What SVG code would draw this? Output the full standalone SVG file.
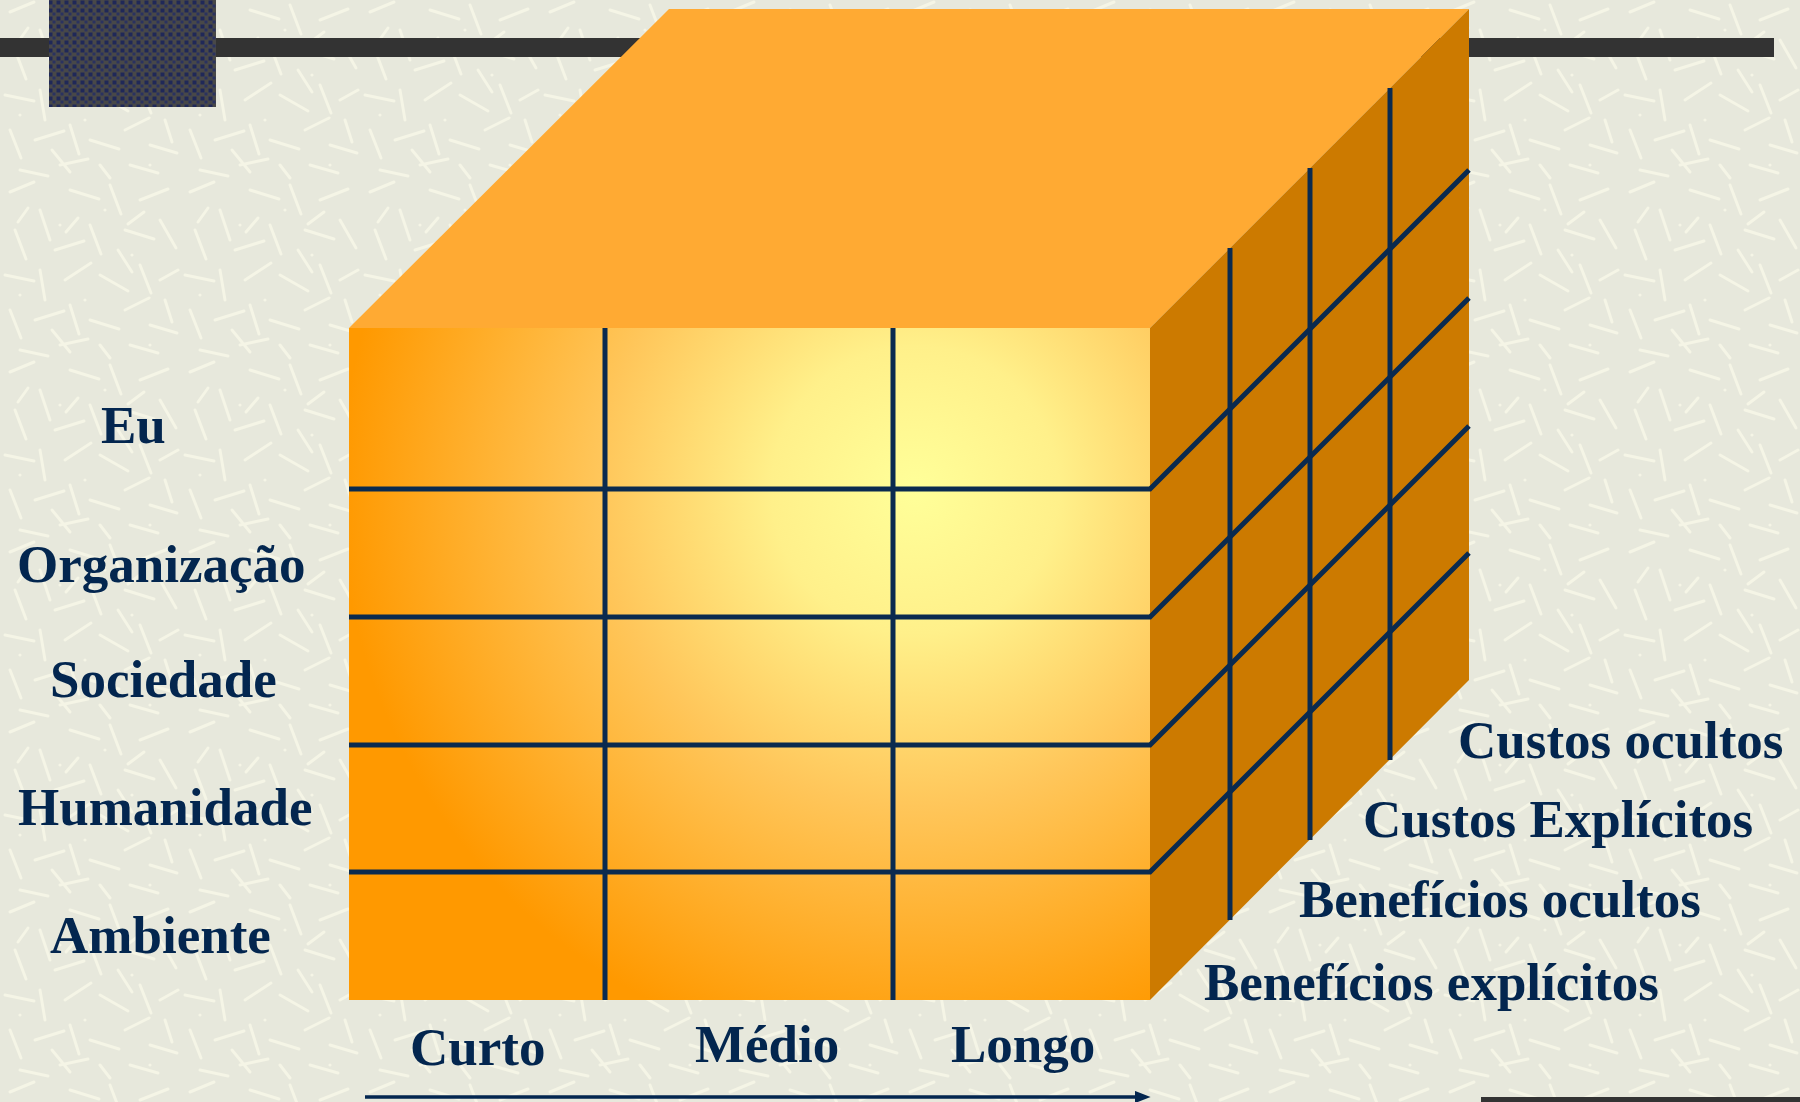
<svg xmlns="http://www.w3.org/2000/svg" width="1800" height="1102" viewBox="0 0 1800 1102">
<defs>
<style>
.lbl{font-family:"Liberation Serif","Times New Roman",serif;font-weight:bold;font-size:53px;fill:#03264f}
.grid{stroke:#0a2a4f;stroke-width:5;fill:none;stroke-linecap:butt}
.streak{stroke:#f5f5e6;stroke-width:3;stroke-linecap:round}
.bar{fill:#333333}
</style>
<pattern id="bgTex" x="0" y="0" width="180" height="180" patternUnits="userSpaceOnUse">
<rect width="180" height="180" fill="#e7e8dc"/>
<g class="streak">
<line x1="10" y1="12" x2="34" y2="2"/>
<line x1="40" y1="30" x2="50" y2="60"/>
<line x1="70" y1="10" x2="99" y2="19"/>
<line x1="110" y1="5" x2="121" y2="34"/>
<line x1="140" y1="20" x2="168" y2="9"/>
<line x1="15" y1="50" x2="26" y2="79"/>
<line x1="55" y1="70" x2="84" y2="61"/>
<line x1="90" y1="45" x2="101" y2="74"/>
<line x1="125" y1="50" x2="154" y2="59"/>
<line x1="160" y1="40" x2="176" y2="68"/>
<line x1="5" y1="95" x2="34" y2="101"/>
<line x1="40" y1="90" x2="45" y2="120"/>
<line x1="65" y1="100" x2="91" y2="83"/>
<line x1="100" y1="95" x2="128" y2="111"/>
<line x1="140" y1="85" x2="151" y2="113"/>
<line x1="160" y1="100" x2="178" y2="90"/>
<line x1="10" y1="130" x2="21" y2="158"/>
<line x1="35" y1="140" x2="64" y2="131"/>
<line x1="70" y1="125" x2="79" y2="154"/>
<line x1="90" y1="140" x2="119" y2="149"/>
<line x1="125" y1="130" x2="149" y2="118"/>
<line x1="150" y1="145" x2="177" y2="153"/>
<line x1="20" y1="170" x2="48" y2="176"/>
<line x1="60" y1="165" x2="88" y2="159"/>
<line x1="100" y1="165" x2="110" y2="178"/>
<line x1="130" y1="165" x2="158" y2="173"/>
<line x1="165" y1="120" x2="172" y2="142"/>
<line x1="28" y1="28" x2="18" y2="42"/>
<line x1="118" y1="70" x2="132" y2="92"/>
<line x1="52" y1="150" x2="70" y2="172"/>
<line x1="144" y1="32" x2="128" y2="44"/>
<line x1="78" y1="38" x2="66" y2="52"/>
</g>
<g fill="#f5f5e6">
<circle cx="60" cy="45" r="1.6"/><circle cx="132" cy="75" r="1.6"/><circle cx="85" cy="120" r="1.6"/><circle cx="20" cy="115" r="1.6"/><circle cx="150" cy="165" r="1.6"/><circle cx="105" cy="30" r="1.6"/>
</g>
</pattern>
<pattern id="dotTex" x="0" y="0" width="8" height="8" patternUnits="userSpaceOnUse">
<rect width="8" height="8" fill="#484848"/>
<rect x="0.5" y="0.5" width="4" height="4" fill="#1f2858"/>
<rect x="4.5" y="4.5" width="3" height="3" fill="#2a3260"/>
</pattern>
<radialGradient id="frontGrad" gradientUnits="userSpaceOnUse" cx="915" cy="490" r="575">
<stop offset="0" stop-color="#ffff99"/>
<stop offset="0.25" stop-color="#fff08a"/>
<stop offset="0.55" stop-color="#ffc65a"/>
<stop offset="1" stop-color="#ff9900"/>
</radialGradient>
<marker id="arrowHead" viewBox="0 0 10 10" refX="2" refY="5" markerWidth="4.5" markerHeight="3.5" orient="auto" markerUnits="strokeWidth" preserveAspectRatio="none">
<path d="M0,0 L10,5 L0,10 z" fill="#03264f"/>
</marker>
</defs>

<rect width="1800" height="1102" fill="url(#bgTex)"/>

<g id="decor">
<rect class="bar" x="0" y="38" width="1774" height="19"/>
<rect x="49" y="0" width="167" height="107" fill="url(#dotTex)"/>
<rect class="bar" x="1481" y="1097" width="319" height="10"/>
</g>

<g id="cube">
<polygon points="349,328 669,9 1469,9 1150,328" fill="#ffaa33"/>
<polygon points="1150,328 1469,9 1469,680 1150,1000" fill="#cc7a00"/>
<rect x="349" y="328" width="801" height="672" fill="url(#frontGrad)"/>
</g>

<g id="connectors">
<g class="grid">
<line x1="605" y1="328" x2="605" y2="1000"/>
<line x1="893" y1="328" x2="893" y2="1000"/>
<polyline points="349,489 1150,489 1469,170"/>
<polyline points="349,617 1150,617 1469,298"/>
<polyline points="349,745 1150,745 1469,426"/>
<polyline points="349,872 1150,872 1469,553"/>
<line x1="1230" y1="248" x2="1230" y2="920"/>
<line x1="1310" y1="168" x2="1310" y2="840"/>
<line x1="1390" y1="88" x2="1390" y2="760"/>
</g>
<line x1="365" y1="1097" x2="1138" y2="1097" stroke="#03264f" stroke-width="3.5" marker-end="url(#arrowHead)"/>
</g>

<g id="row-labels">
<text class="lbl" x="101" y="443">Eu</text>
<text class="lbl" x="17" y="582">Organização</text>
<text class="lbl" x="50" y="697">Sociedade</text>
<text class="lbl" x="18" y="825">Humanidade</text>
<text class="lbl" x="50" y="953">Ambiente</text>
</g>

<g id="depth-labels">
<text class="lbl" x="1458" y="758">Custos ocultos</text>
<text class="lbl" x="1363" y="837">Custos Explícitos</text>
<text class="lbl" x="1299" y="917">Benefícios ocultos</text>
<text class="lbl" x="1204" y="1000">Benefícios explícitos</text>
</g>

<g id="time-labels">
<text class="lbl" x="410" y="1065">Curto</text>
<text class="lbl" x="695" y="1062">Médio</text>
<text class="lbl" x="951" y="1062">Longo</text>
</g>
</svg>
